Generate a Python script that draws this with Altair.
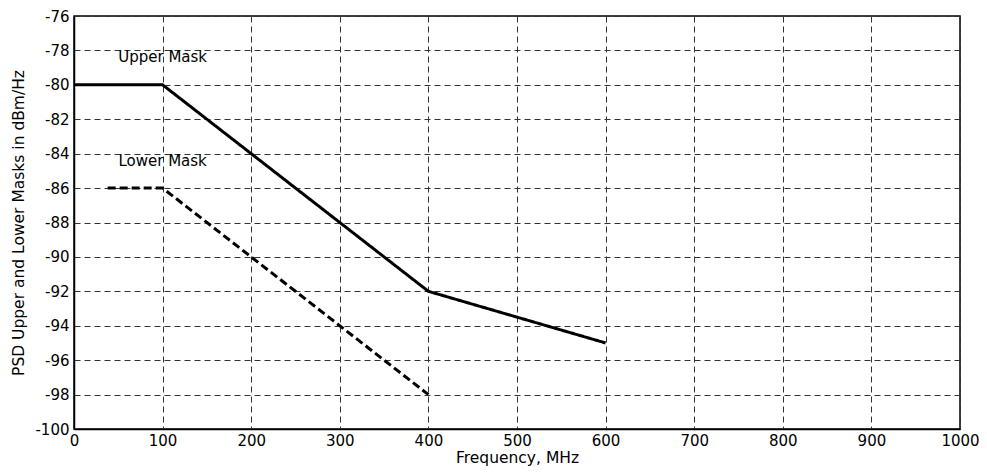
import altair as alt
import pandas as pd

upper_x = [0, 100, 400, 600]
upper_y = [-80, -80, -92, -95]
lower_x = [38, 100, 400]
lower_y = [-86, -86, -98]

label_text = ["Upper Mask", "Lower Mask"]
label_x = [100, 100]
label_y = [-78.4, -84.45]

x_ticks = list(range(0, 1001, 100))
y_ticks = list(range(-100, -75, 2))

df = pd.DataFrame(
    {"f": upper_x + lower_x,
     "psd": upper_y + lower_y,
     "mask": ["Upper"] * len(upper_x) + ["Lower"] * len(lower_x)}
)
labels = pd.DataFrame({"f": label_x, "psd": label_y, "t": label_text})

FONT = "DejaVu Sans"

xscale = alt.Scale(domain=[0, 1000], nice=False)
yscale = alt.Scale(domain=[-100, -76], nice=False)

xaxis = alt.Axis(title="Frequency, MHz", values=x_ticks, labelExpr="toString(datum.value)",
                 labelOverlap=False, labelFlush=False, labelPadding=4, titlePadding=2)
yaxis = alt.Axis(title="PSD Upper and Lower Masks in dBm/Hz", values=y_ticks,
                 labelExpr="toString(datum.value)",
                 labelOverlap=False, labelFlush=False, labelPadding=5, titlePadding=8)

lines = alt.Chart(df).mark_line(color="black", strokeWidth=3).encode(
    x=alt.X("f:Q", scale=xscale, axis=xaxis),
    y=alt.Y("psd:Q", scale=yscale, axis=yaxis),
    strokeDash=alt.StrokeDash("mask:N",
                              scale=alt.Scale(domain=["Upper", "Lower"], range=[[1, 0], [8, 4]]),
                              legend=None),
    detail="mask:N",
)

text = alt.Chart(labels).mark_text(font=FONT, fontSize=15, color="black").encode(
    x=alt.X("f:Q", scale=xscale, axis=xaxis),
    y=alt.Y("psd:Q", scale=yscale, axis=yaxis),
    text="t:N",
)

chart = alt.layer(lines, text).properties(
    width=886, height=413,
    autosize=alt.AutoSizeParams(type="none"),
    padding={"left": 66, "top": 8, "right": 19, "bottom": 38},
    background="white",
).configure_view(stroke="black", strokeWidth=1.5).configure_axis(
    grid=True, gridColor="#333", gridDash=[6, 4], gridWidth=1, gridOpacity=1,
    domain=True, domainColor="black", domainWidth=1.5,
    ticks=False,
    labelFont=FONT, labelFontSize=15, labelColor="black",
    titleFont=FONT, titleFontSize=15.5, titleFontWeight="normal", titleColor="black",
)

chart.save("out.html", embed_options={"renderer": "svg", "actions": False})
